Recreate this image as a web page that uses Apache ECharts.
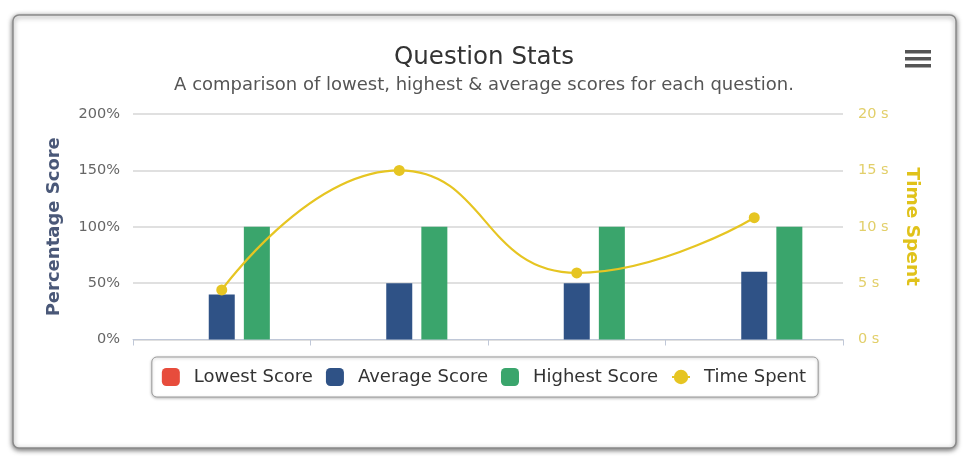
<!DOCTYPE html>
<html>
<head>
<meta charset="utf-8">
<script src="https://cdn.jsdelivr.net/npm/echarts@6/dist/echarts.min.js"></script>
<style>
html,body{margin:0;padding:0;background:#fff;}
#c{width:968px;height:456px;}
</style>
</head>
<body>
<div id="c"></div>
<script>
var categories = ['Q1', 'Q2', 'Q3', 'Q4'];
var lowestScore = [0, 0, 0, 0];
var averageScore = [40, 50, 50, 60];
var highestScore = [100, 100, 100, 100];
var timeSpent = [4.4, 15, 5.9, 10.8];
var leftTicks = { min: 0, max: 200, interval: 50 };
var rightTicks = { min: 0, max: 20, interval: 5 };

var FONT = 'DejaVu Sans';
var chart = echarts.init(document.getElementById('c'), null, { renderer: 'canvas' });
chart.setOption({
  backgroundColor: '#fff',
  animation: false,
  textStyle: { fontFamily: FONT },
  graphic: [
    {
      type: 'rect', z: -10,
      shape: { x: 13, y: 15, width: 943, height: 433, r: 6 },
      style: { fill: '#fff', stroke: '#8a8a8a', lineWidth: 1.5,
        shadowBlur: 5, shadowColor: 'rgba(0,0,0,0.55)', shadowOffsetX: 0, shadowOffsetY: 1.5 }
    },
    { type: 'rect', shape: { x: 905, y: 50, width: 26, height: 3.5 }, style: { fill: '#555' } },
    { type: 'rect', shape: { x: 905, y: 57, width: 26, height: 3.5 }, style: { fill: '#555' } },
    { type: 'rect', shape: { x: 905, y: 64, width: 26, height: 3.5 }, style: { fill: '#555' } }
  ],
  title: [
    { text: 'Question Stats', left: 'center', top: 40,
      textStyle: { fontFamily: FONT, fontSize: 24.5, fontWeight: 'normal', color: '#333' } },
    { text: 'A comparison of lowest, highest & average scores for each question.', left: 'center', top: 71,
      textStyle: { fontFamily: FONT, fontSize: 18, fontWeight: 'normal', color: '#555' } }
  ],
  legend: {
    left: 'center', top: 357,
    padding: [11, 12, 11, 10],
    borderColor: '#9a9a9a', borderWidth: 1, borderRadius: 5,
    shadowBlur: 3, shadowColor: 'rgba(0,0,0,0.25)', shadowOffsetY: 1,
    backgroundColor: '#fff',
    itemWidth: 18, itemHeight: 18, itemGap: 13,
    textStyle: { fontFamily: FONT, fontSize: 18, color: '#333', padding: [0, 0, 0, 9] },
    data: [
      { name: 'Lowest Score', icon: 'roundRect' },
      { name: 'Average Score', icon: 'roundRect' },
      { name: 'Highest Score', icon: 'roundRect' },
      { name: 'Time Spent' }
    ]
  },
  grid: { left: 133, right: 125, top: 114, bottom: 116.5 },
  xAxis: {
    type: 'category', data: categories,
    axisLine: { lineStyle: { color: '#c0c8d8' } },
    axisTick: { show: true, length: 6, lineStyle: { color: '#c0c8d8' } },
    axisLabel: { show: false }
  },
  yAxis: [
    {
      type: 'value', min: leftTicks.min, max: leftTicks.max, interval: leftTicks.interval,
      name: 'Percentage Score', nameLocation: 'middle', nameGap: 70,
      nameTextStyle: { fontFamily: FONT, fontSize: 18, fontWeight: 'bold', color: '#4a5878' },
      axisLine: { show: false }, axisTick: { show: false },
      axisLabel: { formatter: '{value}%', color: '#666', fontSize: 14.5, margin: 13 },
      splitLine: { lineStyle: { color: '#d6d6d6', width: 1.5 } }
    },
    {
      type: 'value', min: rightTicks.min, max: rightTicks.max, interval: rightTicks.interval,
      position: 'right',
      name: 'Time Spent', nameLocation: 'middle', nameGap: 59, nameRotate: -90,
      nameTextStyle: { fontFamily: FONT, fontSize: 18.5, fontWeight: 'bold', color: '#e0c21a' },
      axisLine: { show: false }, axisTick: { show: false },
      axisLabel: { formatter: '{value} s', color: '#e2cf6a', fontSize: 14.5, margin: 15 },
      splitLine: { show: false }
    }
  ],
  series: [
    { name: 'Lowest Score', type: 'bar', data: lowestScore, barWidth: 26, barGap: '35%',
      itemStyle: { color: '#e74c3c' } },
    { name: 'Average Score', type: 'bar', data: averageScore, barWidth: 26, barGap: '35%',
      itemStyle: { color: '#2f5286' } },
    { name: 'Highest Score', type: 'bar', data: highestScore, barWidth: 26, barGap: '35%',
      itemStyle: { color: '#3aa56c' } },
    { name: 'Time Spent', type: 'line', yAxisIndex: 1, data: timeSpent, smooth: 0.5,
      symbol: 'circle', symbolSize: 11,
      lineStyle: { color: '#e6c522', width: 2.2 },
      itemStyle: { color: '#e6c522' }, z: 5 }
  ]
});
</script>
</body>
</html>
